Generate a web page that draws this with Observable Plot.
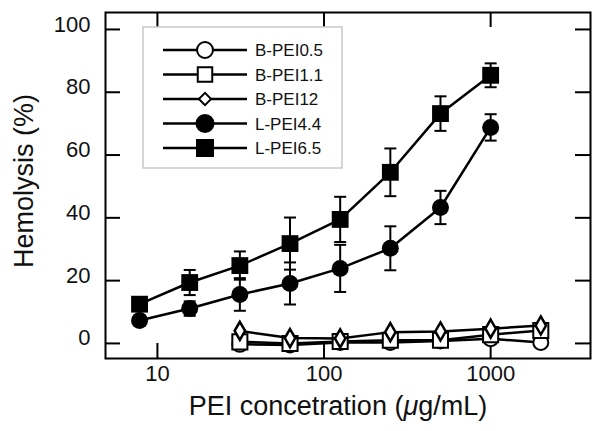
<!DOCTYPE html>
<html>
<head>
<meta charset="utf-8">
<script src="https://cdn.jsdelivr.net/npm/d3@7"></script>
<script src="https://cdn.jsdelivr.net/npm/@observablehq/plot@0.6"></script>
<style>
  html, body { margin: 0; padding: 0; background: #fff; }
  #chart { position: relative; width: 600px; height: 431px; }
  svg { font-family: "Liberation Sans", Arial, Helvetica, sans-serif; }
</style>
</head>
<body>
<div id="chart"></div>
<script>
// ---- data ----
const concL = [7.8125, 15.625, 31.25, 62.5, 125, 250, 500, 1000];
const concB = [31.25, 62.5, 125, 250, 500, 1000, 2000];
const lpei65 = [12.5, 19.4, 24.8, 31.8, 39.5, 54.5, 73.2, 85.4];
const lpei65Err = [2.0, 4.0, 4.5, 8.3, 7.2, 7.6, 5.5, 3.8];
const lpei44 = [7.3, 11.1, 15.6, 19.1, 23.9, 30.3, 43.3, 68.8];
const lpei44Err = [1.5, 2.3, 5.2, 6.7, 7.5, 7.0, 5.3, 4.2];
const bpei05 = [-0.3, -0.5, 0.3, 0.3, 0.8, 1.5, 0.3];
const bpei11 = [0.5, 0.0, 0.6, 1.0, 1.0, 2.8, 4.1];
const bpei12 = [4.0, 1.7, 1.6, 3.6, 3.8, 4.7, 5.7];
const seriesNames = ["B-PEI0.5", "B-PEI1.1", "B-PEI12", "L-PEI4.4", "L-PEI6.5"];
const xTicks = [10, 100, 1000];
const yTicks = [0, 20, 40, 60, 80, 100];
const xTitle = ["PEI concetration (", "\u03bc", "g/mL)"];
const yTitle = "Hemolysis (%)";

// ---- build tables ----
const mk = (name, xs, ys, es) => xs.map((x, i) => ({series: name, x, y: ys[i], e: es ? es[i] : 0}));
const dB05 = mk("B-PEI0.5", concB, bpei05);
const dB11 = mk("B-PEI1.1", concB, bpei11);
const dB12 = mk("B-PEI12", concB, bpei12);
const dL44 = mk("L-PEI4.4", concL, lpei44, lpei44Err);
const dL65 = mk("L-PEI6.5", concL, lpei65, lpei65Err);

const W = 600, H = 431;
const mL = 105, mR = 10, mT = 12, mB = 73;
const innerW = W - mL - mR, innerH = H - mT - mB;
const tickLen = 15;

const capSymbol = {
  draw(ctx) { ctx.moveTo(-6, 0); ctx.lineTo(6, 0); }
};

const lineOpts = {x: "x", y: "y", stroke: "black", strokeWidth: 2.5};
const errMarks = (d) => [
  Plot.ruleX(d, {x: "x", y1: r => r.y - r.e, y2: r => r.y + r.e, stroke: "black", strokeWidth: 2}),
  Plot.dot(d, {x: "x", y: r => r.y - r.e, symbol: capSymbol, stroke: "black", strokeWidth: 2, fill: "none"}),
  Plot.dot(d, {x: "x", y: r => r.y + r.e, symbol: capSymbol, stroke: "black", strokeWidth: 2, fill: "none"})
];

const chart = Plot.plot({
  width: W, height: H,
  marginLeft: mL, marginRight: mR, marginTop: mT, marginBottom: mB,
  style: {fontFamily: '"Liberation Sans", Arial, Helvetica, sans-serif', background: "white"},
  x: {type: "log", domain: [4.88, 3975]},
  y: {domain: [-4.8, 105.4]},
  marks: [
    // inward ticks
    Plot.tickX(xTicks, {x: d => d, insetTop: innerH - tickLen, stroke: "black", strokeWidth: 2}),
    Plot.tickX(xTicks, {x: d => d, insetBottom: innerH - tickLen, stroke: "black", strokeWidth: 2}),
    Plot.tickY(yTicks, {y: d => d, insetRight: innerW - tickLen, stroke: "black", strokeWidth: 2}),
    Plot.tickY(yTicks, {y: d => d, insetLeft: innerW - tickLen, stroke: "black", strokeWidth: 2}),
    Plot.axisX(xTicks, {tickSize: 0, tickPadding: 7, tickFormat: d => String(d), fontSize: 22, label: null, color: "#111"}),
    Plot.axisY(yTicks, {tickSize: 0, tickPadding: 15, fontSize: 22, label: null, dy: -5, color: "#111"}),
    // B-PEI series
    Plot.line(dB05, lineOpts),
    Plot.dot(dB05, {x: "x", y: "y", symbol: "circle", r: 7.5, fill: "white", stroke: "black", strokeWidth: 2}),
    Plot.line(dB11, lineOpts),
    Plot.dot(dB11, {x: "x", y: "y", symbol: "square", r: 8.5, fill: "white", stroke: "black", strokeWidth: 2}),
    Plot.line(dB12, lineOpts),
    Plot.dot(dB12, {x: "x", y: "y", symbol: "diamond", r: 5.5, fill: "white", stroke: "black", strokeWidth: 2.5}),
    // L-PEI series
    ...errMarks(dL44),
    Plot.line(dL44, lineOpts),
    Plot.dot(dL44, {x: "x", y: "y", symbol: "circle", r: 8.5, fill: "black"}),
    ...errMarks(dL65),
    Plot.line(dL65, lineOpts),
    Plot.dot(dL65, {x: "x", y: "y", symbol: "square", r: 9.5, fill: "black"}),
    Plot.frame({stroke: "black", strokeWidth: 2})
  ]
});

document.getElementById("chart").appendChild(chart);
const svg = d3.select(chart);

// axis titles
const xt = svg.append("text")
  .attr("x", 338).attr("y", 415)
  .attr("text-anchor", "middle")
  .attr("font-size", 27).attr("fill", "#111");
xt.append("tspan").text(xTitle[0]);
xt.append("tspan").attr("font-style", "italic").text(xTitle[1]);
xt.append("tspan").text(xTitle[2]);

svg.append("text")
  .attr("transform", "translate(33,181) rotate(-90)")
  .attr("text-anchor", "middle")
  .attr("font-size", 27).attr("fill", "#111")
  .text(yTitle);

// legend
const lg = svg.append("g");
lg.append("rect").attr("x", 143).attr("y", 27).attr("width", 199).attr("height", 141)
  .attr("fill", "white").attr("stroke", "#c8c8c8").attr("stroke-width", 1.5);
const symbols = [
  {sym: d3.symbolCircle, size: 200, fill: "white"},
  {sym: d3.symbolSquare, size: 210, fill: "white"},
  {sym: d3.symbolDiamond2, size: 95, fill: "white"},
  {sym: d3.symbolCircle, size: 227, fill: "black"},
  {sym: d3.symbolSquare, size: 256, fill: "black"}
];
seriesNames.forEach((name, i) => {
  const yy = 50 + i * 24.5;
  lg.append("line").attr("x1", 163).attr("x2", 247).attr("y1", yy).attr("y2", yy)
    .attr("stroke", "black").attr("stroke-width", 2.5);
  lg.append("path").attr("d", d3.symbol(symbols[i].sym, symbols[i].size)())
    .attr("transform", `translate(205,${yy})`)
    .attr("fill", symbols[i].fill).attr("stroke", "black").attr("stroke-width", 2);
  lg.append("text").attr("x", 255).attr("y", yy).attr("dy", "0.36em")
    .attr("text-anchor", "start")
    .attr("font-size", 17).attr("fill", "#111").text(name);
});
</script>
</body>
</html>
